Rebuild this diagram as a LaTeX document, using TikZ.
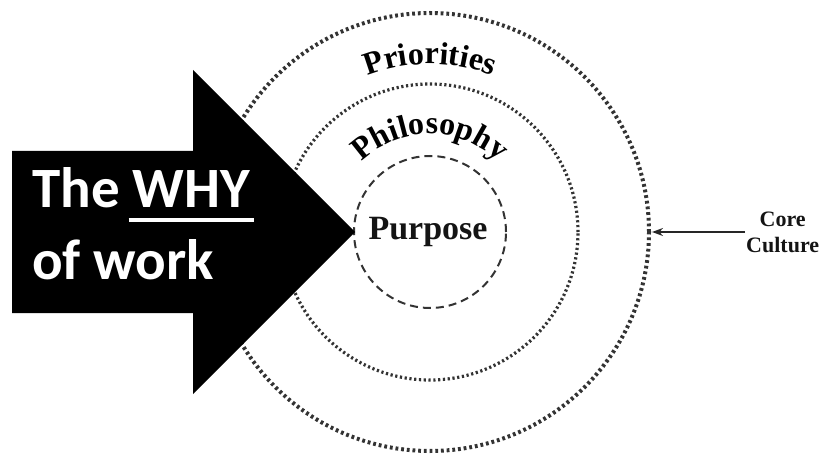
\documentclass[tikz,border=0pt]{standalone}
\usepackage{fontspec}
\setmainfont{Liberation Serif}
\newfontfamily\arrowfont{Carlito}
\usetikzlibrary{arrows.meta,decorations.text}

\newcommand{\ringfont}{\bfseries\fontsize{32}{38}\selectfont}
\newcommand{\thickunder}[1]{\setbox0\hbox{#1}%
  \makebox[0pt][l]{\hspace{-4pt}\rule[-14pt]{\dimexpr\wd0+8pt\relax}{4pt}}#1}

\begin{document}
\begin{tikzpicture}[x=1pt,y=1pt]
        \tikzstyle{ring_outer} = [circle, draw=black!80, line width=4pt, dash pattern=on 2.8pt off 2.9pt, outer sep=0pt]
        \tikzstyle{ring_middle} = [circle, draw=black!80, line width=3.2pt, dash pattern=on 2.2pt off 2.6pt, outer sep=0pt]
        \tikzstyle{ring_inner} = [circle, draw=black!80, line width=2pt, dash pattern=on 8pt off 5pt, outer sep=0pt]
        \tikzstyle{label_style} = [text=black!92, font=\ringfont]
        \tikzstyle{edge_style} = [draw=black!85, line width=1.4pt, -{Stealth[length=11pt,width=8pt]}]
        \useasboundingbox (0,0) rectangle (826,458);
        \coordinate (c) at (430,226);
        % the three rings
        \node[ring_outer, minimum size=438] (outer) at (c) {};
        \node[ring_middle, minimum size=296] (middle) at (c) {};
        \node[ring_inner, minimum size=152] (inner) at (c) {};
        \path[decorate, decoration={text along path, text align=center,
            text={|\ringfont|Priorities}}]
            ([shift={(150:168)}]c) arc[start angle=150, end angle=30, radius=168];
        \path[decorate, decoration={text along path, text align=center,
            text={|\ringfont|Philosophy}}]
            ([shift={(160:98)}]c) arc[start angle=160, end angle=20, radius=98];
        \node[label_style, font=\bfseries\fontsize{34}{40}\selectfont] (purpose) at (428,226) {Purpose};
        % the big arrow
        \fill[black] (12,307) -- (193,307) -- (193,388) -- (355,226)
            -- (193,64) -- (193,145) -- (12,145) -- cycle;
        \node[text=white, font=\arrowfont\bfseries\fontsize{57}{72}\selectfont,
            align=left, inner sep=0pt, anchor=west] (why) at (32,234)
            {The \thickunder{WHY}\\of work};
        % side label
        \node[label_style, font=\bfseries\fontsize{22}{26}\selectfont, align=center,
            inner sep=1pt, anchor=west] (core) at (745,226) {Core\\Culture};
        \draw[edge_style, shorten >=3pt] (core.west |- outer.east) -- (outer.east);
      \end{tikzpicture}
\end{document}
